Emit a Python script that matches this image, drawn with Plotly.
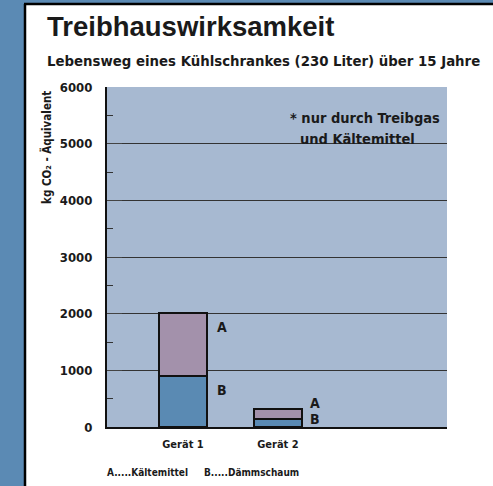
import plotly.graph_objects as go

categories = ["Gerät 1", "Gerät 2"]
x_pos = [1, 2]
daemmschaum_B = [900, 140]
kaeltemittel_A = [1110, 180]
y_ticks = [0, 1000, 2000, 3000, 4000, 5000, 6000]

W, H = 493, 486
L, R, T, B = 107, 46, 87, 59
PW, PH = W - L - R, H - T - B

def px(xp):
    return (xp - L) / PW

def py(yp):
    return (H - B - yp) / PH

FONT = "DejaVu Sans Condensed, Arial Narrow, Liberation Sans, sans-serif"
TXT = "#1a1a1a"
BAR_W = 0.505

fig = go.Figure()
fig.add_trace(go.Bar(x=x_pos, y=daemmschaum_B, width=BAR_W, marker=dict(color="#5a8ab3", line=dict(color="#111", width=1.5)), name="B", hoverinfo="skip"))
fig.add_trace(go.Bar(x=x_pos, y=kaeltemittel_A, width=BAR_W, marker=dict(color="#a391ab", line=dict(color="#111", width=1.5)), name="A", hoverinfo="skip"))

ann = []
totals = [a + b for a, b in zip(kaeltemittel_A, daemmschaum_B)]
lab = dict(family=FONT, size=14, color=TXT, weight="bold")
ann.append(dict(x=x_pos[0] + BAR_W / 2, y=totals[0], text="A", xanchor="left", yanchor="top", xshift=8, yshift=-4, showarrow=False, font=lab))
ann.append(dict(x=x_pos[0] + BAR_W / 2, y=daemmschaum_B[0], text="B", xanchor="left", yanchor="top", xshift=8, yshift=-4, showarrow=False, font=lab))
ann.append(dict(x=x_pos[1] + BAR_W / 2, y=totals[1], text="A", xanchor="left", yanchor="bottom", xshift=6, yshift=-4, showarrow=False, font=lab))
ann.append(dict(x=x_pos[1] + BAR_W / 2, y=daemmschaum_B[1], text="B", xanchor="left", yanchor="middle", xshift=6, yshift=0, showarrow=False, font=lab))

def pa(text, xp, yp, size, xanchor="left", yanchor="middle", angle=0, family=FONT):
    ann.append(dict(text=text, x=px(xp), y=py(yp), xref="paper", yref="paper", xanchor=xanchor, yanchor=yanchor, textangle=angle, showarrow=False, font=dict(family=family, size=size, color=TXT, weight="bold")))

pa("Treibhauswirksamkeit", 45, 27, 27.5, family="Liberation Sans, Arial, sans-serif")
pa("Lebensweg eines Kühlschrankes (230 Liter) über 15 Jahre", 45, 60, 14.8)
pa("* nur durch Treibgas", 288, 118, 14.5)
pa("und Kältemittel", 298, 139, 14.5)
pa("kg CO₂ - Äquivalent", 46, 148, 11.5, xanchor="center", angle=-90)
pa("A.....Kältemittel", 105, 472, 10)
pa("B.....Dämmschaum", 202, 472, 10)

shapes = [
    dict(type="rect", xref="paper", yref="paper", x0=px(-5), x1=px(24), y0=py(H + 5), y1=py(-5), fillcolor="#5b8ab4", line=dict(width=0), layer="below"),
    dict(type="rect", xref="paper", yref="paper", x0=px(-5), x1=px(W + 5), y0=py(3), y1=py(-5), fillcolor="#5b8ab4", line=dict(width=0), layer="below"),
    dict(type="line", xref="paper", yref="paper", x0=px(25), x1=px(25), y0=py(H + 5), y1=py(4), line=dict(color="#000", width=2.5), layer="below"),
    dict(type="line", xref="paper", yref="paper", x0=px(24), x1=px(W + 5), y0=py(4), y1=py(4), line=dict(color="#000", width=2.5), layer="below"),
]

fig.update_layout(
    width=W, height=H,
    margin=dict(l=L, r=R, t=T, b=B),
    paper_bgcolor="white", plot_bgcolor="#a7b9d1",
    barmode="stack", showlegend=False, hovermode=False,
    annotations=ann, shapes=shapes,
    font=dict(family=FONT, color=TXT),
)
fig.update_xaxes(range=[0.2, 3.78], tickvals=x_pos, ticktext=categories, showgrid=False, zeroline=False,
                 showline=True, linecolor="#111", linewidth=2, ticks="", ticklabelstandoff=6,
                 tickfont=dict(family=FONT, size=11, color=TXT, weight="bold"))
fig.update_yaxes(range=[0, 6000], tickvals=y_ticks, showgrid=True, gridcolor="#333", gridwidth=1, zeroline=False,
                 showline=True, linecolor="#111", linewidth=2, ticks="inside", ticklen=15, tickcolor="#444", tickwidth=1,
                 minor=dict(dtick=500, ticks="inside", ticklen=6, tickcolor="#333", showgrid=False),
                 ticklabelstandoff=10,
                 tickfont=dict(family=FONT, size=13, color=TXT, weight="bold"))

fig.write_html("out.html", config={"displayModeBar": False},
               post_script="document.body.style.margin='0';document.body.style.overflow='hidden';")
